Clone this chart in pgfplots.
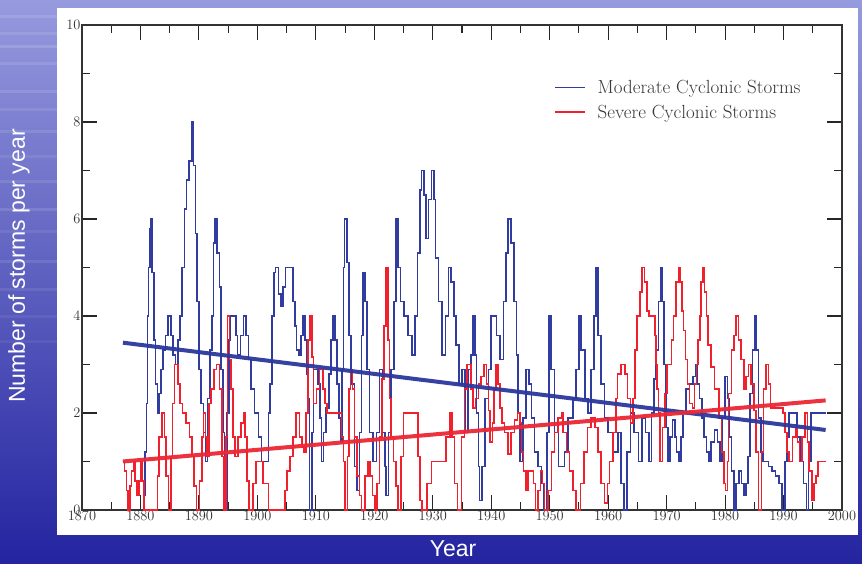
\documentclass[border=0pt]{standalone}
\usepackage{pgfplots}
\pgfplotsset{compat=1.18}
\usepackage{fontspec}
\newfontfamily\arialfont{Liberation Sans}
\definecolor{bgtop}{RGB}{150,154,222}
\definecolor{bgmid}{RGB}{82,86,198}
\definecolor{bgbot}{RGB}{36,36,160}
\definecolor{mblue}{RGB}{48,60,160}
\definecolor{sred}{RGB}{240,32,44}
\definecolor{tblue}{RGB}{44,56,156}
\definecolor{tred}{RGB}{236,40,52}
\definecolor{tickgray}{RGB}{50,50,50}
\begin{document}
\begin{tikzpicture}[x=1pt,y=1pt]
\useasboundingbox (0,0) rectangle (862,563);
\shade[top color=bgtop, middle color=bgmid, bottom color=bgbot] (0,0) rectangle (862,563);
\foreach \yy/\op in {545/0.12,528/0.10,515/0.14,498/0.10,470/0.12,452/0.09,430/0.10,405/0.08,380/0.10,352/0.12,330/0.08,300/0.10,272/0.09,245/0.07,220/0.06}{
  \fill[white,opacity=\op] (0,\yy) rectangle (57,\yy+3);
}
\fill[white] (57,28) rectangle (858,555);
\begin{axis}[
  at={(82pt,53pt)}, anchor=south west,
  scale only axis, width=760pt, height=485pt,
  xmin=1870, xmax=2000, ymin=0, ymax=10,
  xtick={1870,1880,...,2000}, minor x tick num=1,
  ytick={0,2,...,10}, minor y tick num=1,
  tick align=inside,
  major tick length=15pt, minor tick length=8pt,
  tick style={line width=1.1pt, color=black!85},
  axis line style={line width=1.4pt, color=black!80},
  xticklabel style={/pgf/number format/1000 sep={}, font=\fontsize{15}{15}\selectfont, text=tickgray, yshift=2pt},
  yticklabel style={font=\fontsize{15}{15}\selectfont, text=tickgray, xshift=2pt},
  xtick pos=both, ytick pos=both,
  xticklabel pos=lower, yticklabel pos=left,
  legend style={at={(0.617,0.895)}, anchor=north west, draw=none, fill=none,
    font=\fontsize{19}{21}\selectfont, text=black!78, row sep=6pt,
    /tikz/every odd column/.append style={column sep=10pt}},
  legend cell align=left,
  legend image code/.code={\draw[#1] (0pt,0pt) -- (30pt,0pt);},
  clip=true,
]
\addplot[color=mblue, line width=1.6pt, const plot] coordinates {
(1880.4,0.3) (1880.8,1.2) (1881.0,2.2) (1881.2,4.0) (1881.4,5.0) (1881.6,5.8) (1881.8,6.0)
(1882.0,4.9) (1882.3,3.5) (1882.6,2.6) (1882.9,2.0) (1883.2,2.4) (1883.5,2.9) (1883.9,3.3)
(1884.3,3.6) (1884.7,4.0) (1885.2,3.6) (1885.6,3.2) (1886.0,3.0) (1886.4,3.5) (1886.8,4.0)
(1887.1,5.0) (1887.5,6.2) (1887.9,6.8) (1888.3,7.2) (1888.8,8.0) (1889.1,7.1) (1889.4,5.7)
(1889.7,4.3) (1890.0,2.9) (1890.4,2.2) (1890.8,1.6) (1891.1,1.0) (1891.5,2.3) (1891.9,3.3)
(1892.2,4.0) (1892.5,5.5) (1892.8,6.0) (1893.1,5.3) (1893.5,4.6) (1893.8,2.9) (1894.1,1.6)
(1894.4,0.0) (1894.8,2.0) (1895.1,3.5) (1895.4,4.0) (1896.3,3.6) (1896.6,3.2) (1897.1,3.6)
(1897.6,4.0) (1898.1,3.6) (1898.5,3.1) (1898.9,2.5) (1899.5,2.0) (1900.2,1.5) (1900.7,1.0)
(1901.9,2.0) (1902.2,2.6) (1902.5,4.0) (1902.8,4.9) (1903.1,5.0) (1903.6,4.45) (1904.0,4.2)
(1904.4,4.6) (1904.8,5.0) (1906.1,4.3) (1906.4,3.8) (1906.7,3.3) (1907.1,3.2) (1907.5,3.6)
(1907.8,4.0) (1908.1,3.5) (1908.4,2.8) (1908.7,2.3) (1908.9,0.0) (1909.3,1.6) (1909.6,2.9)
(1910.4,2.6) (1910.7,1.9) (1911.0,1.0) (1911.3,1.6) (1911.7,2.1) (1912.2,2.8) (1912.6,3.5)
(1912.9,4.0) (1913.3,3.5) (1913.6,2.6) (1914.0,1.9) (1914.3,1.4) (1914.5,2.9) (1914.7,5.0)
(1914.9,6.0) (1915.3,5.1) (1915.7,3.6) (1916.0,2.6) (1916.6,0.9) (1917.0,0.4) (1917.5,1.6)
(1917.8,3.6) (1918.1,4.9) (1918.4,4.3) (1918.7,2.9) (1919.2,1.6) (1919.8,1.0) (1920.4,1.6)
(1920.9,2.9) (1921.4,1.6) (1921.8,0.9) (1922.0,0.3) (1922.4,1.6) (1922.9,2.9) (1923.4,4.3)
(1923.7,6.0) (1924.1,5.0) (1924.5,4.3) (1925.1,4.0) (1925.8,3.6) (1926.4,3.2) (1927.0,4.0)
(1927.4,5.3) (1927.8,6.6) (1928.1,7.0) (1928.5,6.5) (1928.8,5.6) (1929.3,6.4) (1929.8,7.0)
(1930.2,6.4) (1930.5,5.2) (1931.0,4.3) (1931.6,3.2) (1932.2,4.0) (1932.7,5.0) (1933.1,4.7)
(1933.6,4.0) (1934.0,3.4) (1934.5,2.6) (1935.0,2.9) (1935.5,1.6) (1936.0,2.9) (1936.5,3.2)
(1936.9,4.0) (1937.2,3.2) (1937.5,2.0) (1937.8,0.9) (1938.0,0.2) (1938.4,0.9) (1938.9,2.3)
(1939.5,2.9) (1940.0,4.0) (1940.9,3.6) (1941.5,3.1) (1942.1,4.3) (1942.5,5.3) (1942.9,6.0)
(1943.4,5.5) (1943.9,4.3) (1944.3,3.2) (1944.6,2.0) (1944.9,1.0) (1945.4,1.9) (1945.9,2.9)
(1946.5,2.6) (1946.9,1.9) (1947.4,1.2) (1948.0,0.9) (1948.6,0.55) (1949.0,0.0) (1949.5,1.6)
(1949.9,4.0) (1950.2,2.9) (1950.8,1.6) (1951.5,0.9) (1952.5,1.2) (1953.1,1.9) (1954.0,2.3)
(1954.5,2.9) (1955.0,4.0) (1955.4,3.3) (1956.0,2.3) (1956.6,2.0) (1957.1,2.9) (1957.6,4.0)
(1957.9,5.0) (1958.3,3.6) (1958.8,2.6) (1959.4,1.9) (1960.0,1.6) (1960.8,1.2) (1961.7,1.6)
(1962.2,0.55) (1962.7,0.0) (1963.2,1.2) (1963.8,2.0) (1964.4,1.6) (1965.2,1.0) (1965.8,1.9)
(1966.4,1.6) (1967.0,1.0) (1967.4,2.0) (1967.8,2.7) (1968.2,3.3) (1968.6,4.3) (1969.0,5.0)
(1969.3,4.3) (1969.6,3.0) (1969.9,1.7) (1970.2,1.0) (1970.6,1.5) (1971.0,1.85) (1971.4,1.5)
(1971.7,1.2) (1972.1,1.0) (1972.5,1.5) (1972.8,2.0) (1973.3,2.5) (1973.9,2.6) (1974.5,2.75)
(1975.0,3.0) (1975.3,2.6) (1975.6,2.3) (1976.0,1.9) (1976.4,1.5) (1976.8,1.2) (1977.2,1.0)
(1977.6,1.4) (1978.2,1.65) (1978.7,1.4) (1979.1,1.0) (1979.5,1.9) (1980.0,2.75) (1980.4,2.3)
(1980.7,1.5) (1981.1,0.8) (1981.5,0.0) (1981.9,0.55) (1982.4,0.8) (1982.8,0.55) (1983.2,0.3)
(1983.6,0.55) (1983.9,1.1) (1984.3,2.4) (1984.7,3.3) (1985.1,4.0) (1985.4,3.3) (1985.7,1.9)
(1986.1,1.2) (1986.5,1.0) (1987.4,0.9) (1988.0,0.8) (1988.6,0.7) (1989.2,0.55) (1989.7,0.0)
(1990.2,1.0) (1990.6,1.5) (1990.9,2.0) (1992.3,1.5) (1992.8,1.0) (1993.4,0.55) (1993.9,0.0)
(1994.3,1.0) (1994.7,2.0) (1997.3,2.0)
};
\addlegendentry{Moderate Cyclonic Storms}
\addplot[color=sred, line width=1.6pt, const plot] coordinates {
(1877.0,1.0) (1877.3,0.8) (1877.6,0.4) (1877.9,0.0) (1878.2,0.5) (1878.5,0.8) (1878.8,1.0)
(1879.1,0.6) (1879.4,0.3) (1879.7,0.6) (1880.0,1.0) (1880.3,0.6) (1880.6,0.0) (1882.9,0.7)
(1883.2,1.5) (1883.7,2.0) (1884.1,1.5) (1884.4,0.7) (1884.8,0.0) (1885.2,1.1) (1885.5,2.2)
(1885.8,3.0) (1886.4,2.6) (1886.8,2.2) (1887.2,2.0) (1887.8,1.8) (1888.4,1.5) (1888.8,1.1)
(1889.2,0.5) (1889.6,0.0) (1890.1,0.6) (1890.5,1.5) (1890.8,2.0) (1891.1,1.5) (1891.4,1.1)
(1891.7,2.2) (1892.1,2.5) (1892.6,2.9) (1893.0,3.0) (1893.5,2.5) (1893.9,1.1) (1894.3,0.0)
(1894.6,1.5) (1894.9,4.0) (1895.2,3.1) (1895.5,2.5) (1895.8,1.5) (1896.2,1.1) (1896.7,1.5)
(1897.2,1.8) (1897.6,2.0) (1897.9,1.5) (1898.2,0.6) (1898.6,0.0) (1899.2,0.55) (1899.8,1.0)
(1901.0,0.55) (1901.9,0.0) (1904.7,0.4) (1905.1,0.8) (1905.6,1.1) (1906.1,1.5) (1906.6,2.0)
(1907.2,1.5) (1907.6,1.3) (1908.0,1.2) (1908.3,2.0) (1908.7,3.5) (1909.0,4.0) (1909.3,3.15)
(1909.6,2.2) (1910.1,2.5) (1910.6,2.9) (1911.2,2.5) (1911.6,2.2) (1911.9,2.0) (1914.1,2.0)
(1914.4,1.5) (1914.7,1.0) (1915.0,0.0) (1915.4,1.1) (1915.7,2.5) (1915.9,2.9) (1916.3,2.5)
(1916.6,1.5) (1917.0,0.7) (1917.5,0.3) (1917.8,0.0) (1918.4,0.7) (1918.9,1.0) (1919.3,0.7)
(1919.7,0.3) (1920.1,0.0) (1920.5,0.55) (1920.9,1.5) (1921.3,2.7) (1921.7,3.8) (1922.0,5.0)
(1922.3,3.5) (1922.6,2.3) (1922.9,1.5) (1923.3,1.0) (1923.7,0.5) (1924.1,0.0) (1924.6,1.1)
(1925.0,2.0) (1927.2,2.0) (1927.5,1.1) (1927.8,0.2) (1928.2,0.0) (1929.0,0.55) (1929.8,1.0)
(1931.8,1.0) (1932.3,1.5) (1932.9,2.0) (1933.3,1.5) (1933.7,0.55) (1934.2,0.0) (1934.9,1.5)
(1935.4,2.5) (1935.9,3.0) (1936.5,2.5) (1936.9,2.1) (1937.3,2.3) (1937.8,2.6) (1938.3,2.75)
(1938.8,3.0) (1939.2,2.6) (1939.5,2.05) (1939.8,1.4) (1940.2,1.8) (1940.5,2.5) (1940.8,3.0)
(1941.2,2.6) (1941.5,2.1) (1941.8,1.8) (1942.3,1.6) (1942.9,1.15) (1943.4,1.6) (1944.0,1.85)
(1944.5,2.0) (1944.9,1.8) (1945.2,1.2) (1945.5,0.8) (1945.9,0.4) (1946.3,0.8) (1946.9,0.8)
(1947.2,0.55) (1947.6,0.0) (1948.0,0.4) (1948.4,0.8) (1948.8,0.55) (1949.1,0.0) (1949.7,0.4)
(1950.3,1.2) (1950.8,1.6) (1951.4,1.9) (1952.0,2.0) (1952.3,1.6) (1952.9,1.2) (1953.4,0.8)
(1954.0,0.4) (1954.5,0.0) (1955.3,0.55) (1955.9,1.2) (1956.5,1.7) (1957.1,1.9) (1957.7,1.7)
(1958.3,1.2) (1958.8,0.55) (1959.4,0.15) (1959.9,0.55) (1960.2,1.0) (1960.8,1.6) (1961.3,2.3)
(1961.6,2.8) (1962.2,3.0) (1962.9,2.8) (1963.3,2.3) (1963.8,1.8) (1964.3,2.3) (1964.6,3.3)
(1964.9,4.0) (1965.4,4.5) (1965.8,5.0) (1966.2,4.7) (1966.6,4.1) (1967.0,4.0) (1968.0,3.6)
(1968.2,3.0) (1968.4,2.5) (1968.6,2.0) (1968.9,1.0) (1969.3,1.7) (1969.7,2.4) (1970.1,3.0)
(1970.8,3.5) (1971.2,4.0) (1971.6,4.7) (1972.0,5.0) (1972.3,4.7) (1972.6,4.1) (1972.9,3.7)
(1973.2,3.1) (1973.6,2.6) (1973.9,2.2) (1974.4,2.1) (1974.8,2.6) (1975.1,3.0) (1975.4,3.5)
(1975.7,4.0) (1975.9,4.7) (1976.2,5.0) (1976.5,4.5) (1976.8,4.0) (1977.1,3.4) (1977.6,2.95)
(1978.2,2.5) (1979.0,1.9) (1979.4,1.2) (1979.8,0.55) (1980.1,0.4) (1980.4,1.0) (1980.6,2.4)
(1981.1,3.3) (1981.5,3.6) (1981.9,4.0) (1982.3,3.5) (1982.7,3.1) (1983.2,2.5) (1983.6,2.75)
(1984.0,3.0) (1984.4,2.6) (1984.9,2.05) (1985.3,1.2) (1985.7,0.0) (1986.2,1.2) (1986.6,2.5)
(1987.0,3.0) (1987.4,2.6) (1987.8,2.1) (1989.9,2.0) (1990.2,1.6) (1990.6,1.2) (1990.9,1.0)
(1991.5,1.5) (1992.1,1.7) (1992.4,1.4) (1992.7,1.0) (1993.2,1.5) (1993.7,2.0) (1994.1,1.4)
(1994.4,0.8) (1994.9,0.2) (1995.2,0.55) (1995.6,0.7) (1995.9,1.0) (1997.3,1.0)
};
\addlegendentry{Severe Cyclonic Storms}
\addplot[forget plot, color=tblue, line width=4pt, opacity=0.95] coordinates {(1877.0,3.45) (1997.2,1.65)};
\addplot[forget plot, color=tred, line width=4pt, opacity=0.95] coordinates {(1877.0,1.0) (1997.2,2.26)};
\end{axis}
\node[rotate=90, text=white, font=\arialfont\fontsize{23}{26}\selectfont] at (19,297) {Number of storms per year};
\node[text=white, font=\arialfont\fontsize{23}{26}\selectfont] at (453,14) {Year};
\end{tikzpicture}
\end{document}
